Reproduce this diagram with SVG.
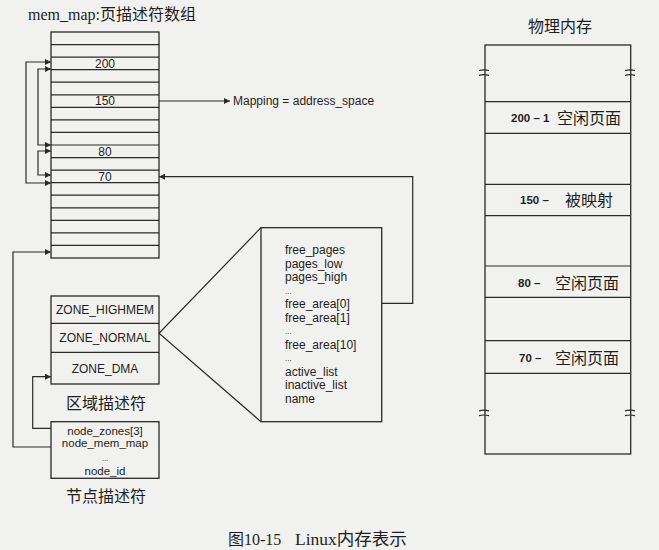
<svg xmlns="http://www.w3.org/2000/svg" width="659" height="550" viewBox="0 0 659 550">
<style>
.bx{fill:none;stroke:#2a2a2a;stroke-width:1.3}
.ln{fill:none;stroke:#2a2a2a;stroke-width:1.2}
.cn{fill:none;stroke:#2a2a2a;stroke-width:1.2}
.s{font-family:"Liberation Sans",Arial,sans-serif;fill:#1e1e1e}
.c{font-family:"Liberation Serif","Noto Sans CJK SC",serif;fill:#1e1e1e}
</style>
<defs>
<marker id="ah" viewBox="0 0 10 10" refX="10" refY="5" markerWidth="8" markerHeight="6" markerUnits="userSpaceOnUse" orient="auto-start-reverse">
<path d="M0,0 L10,5 L0,10 z" fill="#2a2a2a"/>
</marker>
</defs>
<rect x="0" y="0" width="659" height="550" fill="#f1f1ef"/>

<g id="mem_map">
<text class="c" x="28" y="20" font-size="16">mem_map:页描述符数组</text>
<rect class="bx" x="51" y="32" width="108" height="226"/>
<path class="ln" d="M51,44.56H159M51,57.11H159M51,69.67H159M51,82.22H159M51,94.78H159M51,107.33H159M51,119.89H159M51,132.44H159M51,145H159M51,157.56H159M51,170.11H159M51,182.67H159M51,195.22H159M51,207.78H159M51,220.33H159M51,232.89H159M51,245.44H159"/>
<text class="s" x="105" y="67.5" font-size="12" text-anchor="middle">200</text>
<text class="s" x="105" y="105.2" font-size="12" text-anchor="middle">150</text>
<text class="s" x="105" y="155.5" font-size="12" text-anchor="middle">80</text>
<text class="s" x="105" y="180.6" font-size="12" text-anchor="middle">70</text>
</g>

<g id="mapping">
<text class="s" x="233" y="105.3" font-size="12">Mapping = address_space</text>
</g>

<g id="zones">
<rect class="bx" x="51" y="296" width="108" height="88"/>
<path class="ln" d="M51,323.3H159M51,352.3H159"/>
<text class="s" x="105" y="314.3" font-size="12" text-anchor="middle">ZONE_HIGHMEM</text>
<text class="s" x="105" y="341.5" font-size="12" text-anchor="middle">ZONE_NORMAL</text>
<text class="s" x="105" y="372.5" font-size="12" text-anchor="middle">ZONE_DMA</text>
<text class="c" x="106" y="409" font-size="16" text-anchor="middle">区域描述符</text>
</g>

<g id="node">
<rect class="bx" x="51" y="421.7" width="108" height="56.6"/>
<text class="s" x="105" y="435" font-size="11.5" text-anchor="middle">node_zones[3]</text>
<text class="s" x="105" y="447.3" font-size="11.5" text-anchor="middle">node_mem_map</text>
<text class="s" x="105" y="461" font-size="8" text-anchor="middle">...</text>
<text class="s" x="105" y="474.7" font-size="11.5" text-anchor="middle">node_id</text>
<text class="c" x="106" y="502" font-size="16" text-anchor="middle">节点描述符</text>
</g>

<g id="zone_struct">
<rect class="bx" x="261" y="227.7" width="120.7" height="194"/>
<g class="s" font-size="12">
<text x="285" y="254.2">free_pages</text>
<text x="285" y="267.7">pages_low</text>
<text x="285" y="281.2">pages_high</text>
<text x="285" y="293.5" font-size="8">...</text>
<text x="285" y="308.2">free_area[0]</text>
<text x="285" y="321.7">free_area[1]</text>
<text x="285" y="334" font-size="8">...</text>
<text x="285" y="348.7">free_area[10]</text>
<text x="285" y="361" font-size="8">...</text>
<text x="285" y="375.7">active_list</text>
<text x="285" y="389.2">inactive_list</text>
<text x="285" y="402.7">name</text>
</g>
</g>

<g id="phys_mem">
<text class="c" x="560" y="32" font-size="16" text-anchor="middle">物理内存</text>
<rect class="bx" x="485" y="45" width="145.7" height="409"/>
<path class="ln" d="M485,101.7H630.7M485,133.3H630.7M485,184.3H630.7M485,215.7H630.7M485,266H630.7M485,297.3H630.7M485,340.7H630.7M485,373.3H630.7"/>
<path class="ln" stroke-width="1" d="M479,70.5q5,-1.2 10,0M479,75.3q5,-1.2 10,0M625,70.5q5,-1.2 10,0M625,75.3q5,-1.2 10,0M479,410.8q5,-1.2 10,0M479,415.6q5,-1.2 10,0M625,410.8q5,-1.2 10,0M625,415.6q5,-1.2 10,0"/>
<text class="s" x="511" y="122" font-size="11.5" font-weight="bold">200 – 1</text>
<text class="c" x="557" y="124" font-size="16">空闲页面</text>
<text class="s" x="520" y="204" font-size="11.5" font-weight="bold">150 –</text>
<text class="c" x="565" y="206" font-size="16">被映射</text>
<text class="s" x="518" y="286.7" font-size="11.5" font-weight="bold">80 –</text>
<text class="c" x="555" y="288.7" font-size="16">空闲页面</text>
<text class="s" x="519" y="362.3" font-size="11.5" font-weight="bold">70 –</text>
<text class="c" x="555" y="364.3" font-size="16">空闲页面</text>
</g>

<g id="connectors">
<path class="cn" d="M51,62H26V183H51" marker-start="url(#ah)" marker-end="url(#ah)"/>
<path class="cn" d="M51,69H38V145H51" marker-start="url(#ah)" marker-end="url(#ah)"/>
<path class="cn" d="M51,151H38V175H51" marker-start="url(#ah)" marker-end="url(#ah)"/>
<path class="cn" d="M51,447H13V252H51" marker-end="url(#ah)"/>
<path class="cn" d="M51,428.3H32.7V376.7H51" marker-end="url(#ah)"/>
<path class="cn" d="M159,101H230" marker-end="url(#ah)"/>
<path class="cn" d="M381.7,303.3H412.7V176.7H159" marker-end="url(#ah)"/>
<path class="cn" d="M261,227.7L159,333.3L261,421.7"/>
</g>

<g id="caption">
<text class="c" x="228" y="545" font-size="16">图10-15</text>
<text class="c" x="295" y="545" font-size="17.5">Linux内存表示</text>
</g>
</svg>
